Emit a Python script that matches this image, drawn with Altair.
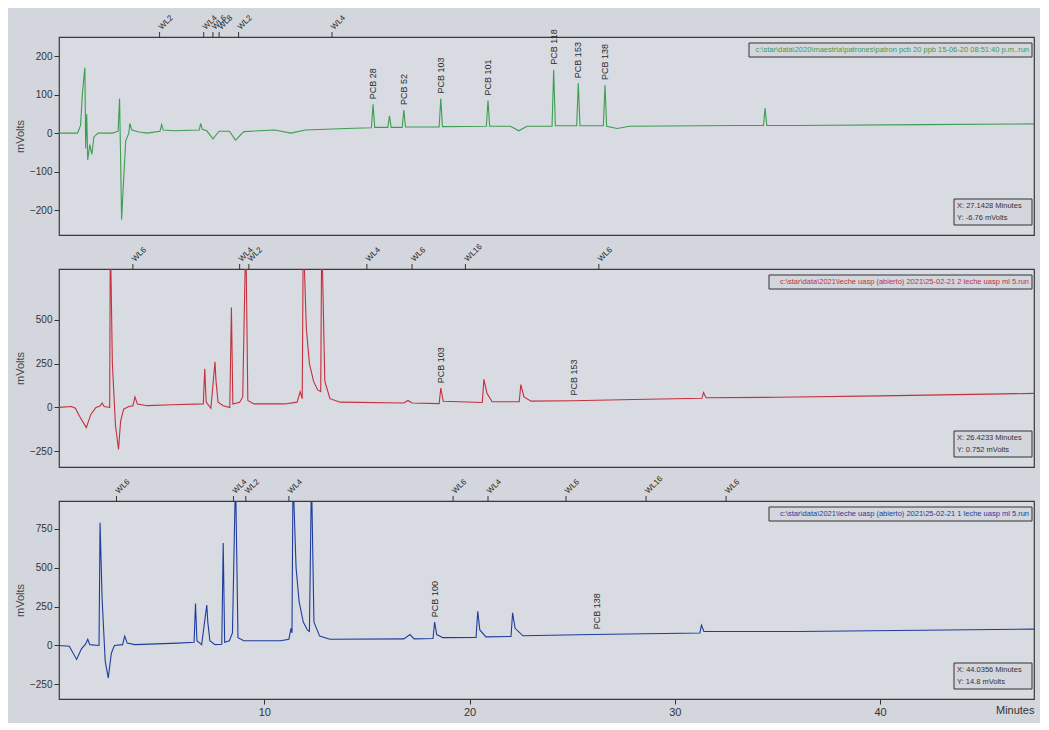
import altair as alt
import pandas as pd

# ---------------- data ----------------
# top trace (green): PCB standard
t_green = [0.0, 0.9, 1.05, 1.15, 1.26, 1.3, 1.35, 1.4, 1.5, 1.6, 1.7, 1.9, 2.6, 2.88, 2.95, 3.0, 3.05, 3.15,
           3.25, 3.4, 3.45, 3.55, 3.9, 4.3, 4.92, 5.0, 5.08, 5.6, 6.83, 6.9, 6.98, 7.2, 7.5, 7.8, 8.3, 8.6, 9.0,
           10.5, 11.3, 12.0, 14.0, 15.22, 15.3, 15.38, 16.02, 16.1, 16.18, 16.72, 16.8, 16.88, 18.52, 18.6, 18.68,
           20.82, 20.9, 20.98, 22.0, 22.4, 22.8, 24.02, 24.1, 24.18, 25.22, 25.3, 25.38, 26.52, 26.6, 26.68, 27.2,
           27.8, 33.0, 34.32, 34.4, 34.48, 36.0, 42.0, 47.5]
v_green = [0, 0, 20, 110, 170, -40, 50, -70, -30, -55, -10, 0, 0, 5, 90, -60, -225, -120,
           -20, 0, 25, 8, 3, 0, 5, 22, 8, 6, 8, 25, 10, 6, -15, 5, 5, -18, 4,
           8, 0, 8, 12, 14, 75, 15, 15, 45, 15, 15, 60, 16, 16, 90, 17,
           18, 85, 18, 18, 6, 18, 18, 165, 19, 19, 130, 19, 19, 125, 18, 12,
           18, 20, 20, 65, 20, 20, 22, 24]

# middle trace (red): sample 2
t_red = [0.0, 0.6, 0.8, 1.0, 1.33, 1.55, 1.8, 2.0, 2.1, 2.2, 2.47, 2.5, 2.6, 2.75, 2.9, 3.0, 3.15, 3.4,
         3.6, 3.7, 3.82, 4.3, 5.5, 7.03, 7.1, 7.17, 7.4, 7.6, 7.65, 7.75, 8.0, 8.32, 8.4, 8.47, 8.8, 8.95,
         9.1, 9.2, 9.5, 11.0, 11.6, 11.75, 11.85, 11.9, 12.05, 12.2, 12.4, 12.6, 12.75, 12.8, 12.95,
         13.2, 13.7, 16.8, 17.0, 17.2, 18.52, 18.6, 18.72, 20.62, 20.7, 20.85, 21.1, 22.42, 22.5, 22.65,
         23.0, 25.0, 28.0, 31.32, 31.4, 31.52, 35.0, 40.0, 47.5]
v_red = [0, 5, -5, -50, -115, -40, 0, 8, 25, 5, 0, 1000, 250, -100, -240, -80, -10, 5,
         10, 60, 20, 10, 15, 20, 220, 30, -5, 260, 150, 30, 10, 0, 570, 20, 30, 60,
         1000, 40, 20, 20, 30, 90, 50, 1000, 450, 250, 150, 100, 90, 1000, 150,
         50, 30, 25, 40, 25, 22, 110, 35, 28, 160, 80, 32, 32, 130, 60,
         36, 38, 45, 52, 85, 55, 58, 66, 80]

# bottom trace (blue): sample 1
t_blue = [0.0, 0.5, 0.86, 1.1, 1.3, 1.4, 1.5, 1.95, 2.0, 2.1, 2.25, 2.4, 2.55, 2.7, 3.1, 3.2, 3.32, 3.7,
          5.8, 6.58, 6.65, 6.72, 6.95, 7.2, 7.25, 7.35, 7.6, 7.93, 8.0, 8.07, 8.3, 8.45, 8.6, 8.72, 9.0, 10.8,
          11.2, 11.3, 11.35, 11.4, 11.55, 11.7, 11.9, 12.1, 12.2, 12.3, 12.42, 12.7, 13.2, 16.8, 17.1,
          17.3, 18.22, 18.3, 18.4, 18.7, 20.32, 20.4, 20.5, 20.8, 22.02, 22.1, 22.22, 22.6, 26.0, 31.22,
          31.3, 31.42, 36.0, 42.0, 47.5]
v_blue = [0, -5, -90, -20, 10, 40, 5, 0, 790, 300, -100, -210, -50, 0, 5, 60, 15, 5,
          15, 20, 270, 30, 5, 260, 150, 30, 5, 8, 660, 20, 30, 80, 1100, 50, 30, 30,
          40, 110, 80, 1100, 500, 280, 150, 100, 90, 1100, 150, 60, 40, 42, 70,
          42, 45, 150, 70, 50, 52, 220, 100, 55, 58, 210, 110, 62, 70, 80,
          130, 90, 90, 98, 105]

# peak name labels
pcb_green_names = ["PCB 28", "PCB 52", "PCB 103", "PCB 101", "PCB 118", "PCB 153", "PCB 138"]
pcb_green_t = [15.3, 16.8, 18.6, 20.9, 24.1, 25.3, 26.6]
pcb_green_v = [75, 60, 90, 85, 165, 130, 125]
pcb_red_names = ["PCB 103", "PCB 153"]
pcb_red_t = [18.6, 25.1]
pcb_red_v = [110, 40]
pcb_blue_names = ["PCB 100", "PCB 138"]
pcb_blue_t = [18.3, 26.2]
pcb_blue_v = [150, 72]

# wavelength event markers on the top edge
wl_green_names = ["WL2", "WL4", "WL6", "WL8", "WL2", "WL4"]
wl_green_t = [4.9, 7.05, 7.5, 7.8, 8.75, 13.3]
wl_red_names = ["WL6", "WL4", "WL2", "WL4", "WL6", "WL16", "WL6"]
wl_red_t = [3.6, 8.8, 9.25, 15.0, 17.2, 19.8, 26.3]
wl_blue_names = ["WL6", "WL4", "WL2", "WL4", "WL6", "WL4", "WL6", "WL16", "WL6"]
wl_blue_t = [2.8, 8.5, 9.1, 11.2, 19.2, 20.9, 24.7, 28.6, 32.5]

green_file = "c:\\star\\data\\2020\\maestria\\patrones\\patron pcb 20 ppb 15-06-20 08:51:40 p.m..run"
red_file = "c:\\star\\data\\2021\\leche uasp (abierto) 2021\\25-02-21 2 leche uasp ml 5.run"
blue_file = "c:\\star\\data\\2021\\leche uasp (abierto) 2021\\25-02-21 1 leche uasp ml 5.run"
green_readout = ["X: 27.1428 Minutes", "Y: -6.76 mVolts"]
red_readout = ["X: 26.4233 Minutes", "Y: 0.752 mVolts"]
blue_readout = ["X: 44.0356 Minutes", "Y: 14.8 mVolts"]

x_ticks = [10, 20, 30, 40]
X_DOMAIN = [0, 47.5]

# ---------------- chart ----------------
W = 975
H = 198
BG = "#d3d6dc"
INK = "#333333"


def panel(t, v, color, ydom, yticks, pn, pt, pv, wn, wt, ftext, readout, show_x, file_w):
    df = pd.DataFrame({"t": t, "v": v})
    xs = alt.Scale(domain=X_DOMAIN, nice=False, zero=False)
    ys = alt.Scale(domain=ydom, nice=False, zero=False)
    if show_x:
        xaxis = alt.Axis(values=x_ticks, title="Minutes", titleAnchor="end", titleAlign="right",
                         titleFontWeight="normal", titleFontSize=11, titleColor=INK, titlePadding=-13,
                         labelFontSize=11, labelColor=INK, tickSize=5, tickColor=INK,
                         domain=False, grid=False)
    else:
        xaxis = None
    line = alt.Chart(df).mark_line(color=color, strokeWidth=1.1, clip=True).encode(
        x=alt.X("t:Q", scale=xs, axis=xaxis),
        y=alt.Y("v:Q", scale=ys,
                axis=alt.Axis(values=yticks, title="mVolts", titleFontWeight="normal",
                              titleFontSize=11, titleColor="#444", labelFontSize=10,
                              labelColor=INK, tickColor=INK, domain=False, grid=False)),
    )
    pdf = pd.DataFrame({"t": pt, "v": pv, "name": pn})
    plab = alt.Chart(pdf).mark_text(angle=270, align="left", baseline="middle", dx=5,
                                    fontSize=9, color="#2a2a2a").encode(
        x="t:Q", y="v:Q", text="name:N")
    wdf = pd.DataFrame({"t": wt, "name": wn})
    wtick = alt.Chart(wdf).mark_rule(color=INK, strokeWidth=1).encode(
        x="t:Q", y=alt.value(0), y2=alt.value(-5))
    wlab = alt.Chart(wdf).mark_text(angle=315, align="left", baseline="middle", dx=3, dy=-2,
                                    fontSize=8, color="#2a2a2a").encode(
        x="t:Q", y=alt.value(-5), text="name:N")
    one = pd.DataFrame({"k": [0]})
    fbox = alt.Chart(one).mark_rect(fill=BG, stroke=INK, strokeWidth=1).encode(
        x=alt.value(W - file_w), x2=alt.value(W - 2), y=alt.value(6), y2=alt.value(20))
    ftxt = alt.Chart(one).mark_text(align="right", baseline="middle", fontSize=7.5,
                                    color=color).encode(
        x=alt.value(W - 5), y=alt.value(13), text=alt.value(ftext))
    rbox = alt.Chart(one).mark_rect(fill=BG, stroke=INK, strokeWidth=1).encode(
        x=alt.value(W - 80), x2=alt.value(W - 2), y=alt.value(H - 36), y2=alt.value(H - 10))
    r1 = alt.Chart(one).mark_text(align="left", baseline="middle", fontSize=7.5,
                                  color=INK).encode(
        x=alt.value(W - 77), y=alt.value(H - 29), text=alt.value(readout[0]))
    r2 = alt.Chart(one).mark_text(align="left", baseline="middle", fontSize=7.5,
                                  color=INK).encode(
        x=alt.value(W - 77), y=alt.value(H - 17), text=alt.value(readout[1]))
    return alt.layer(line, plab, wtick, wlab, fbox, ftxt, rbox, r1, r2).properties(
        width=W, height=H)


top = panel(t_green, v_green, "#3f9d52", [-265, 250], [-200, -100, 0, 100, 200],
            pcb_green_names, pcb_green_t, pcb_green_v, wl_green_names, wl_green_t,
            green_file, green_readout, False, 285)
mid = panel(t_red, v_red, "#c4303c", [-340, 790], [-250, 0, 250, 500],
            pcb_red_names, pcb_red_t, pcb_red_v, wl_red_names, wl_red_t,
            red_file, red_readout, False, 265)
bot = panel(t_blue, v_blue, "#1f3c9c", [-345, 930], [-250, 0, 250, 500, 750],
            pcb_blue_names, pcb_blue_t, pcb_blue_v, wl_blue_names, wl_blue_t,
            blue_file, blue_readout, True, 265)

chart = alt.vconcat(top, mid, bot, spacing=6).configure(
    background=BG, font="Liberation Sans"
).configure_view(fill="#d8dbe1", stroke="#3a3a3a", strokeWidth=1.2)

chart.save("out.html", embed_options={"renderer": "svg", "actions": False})
